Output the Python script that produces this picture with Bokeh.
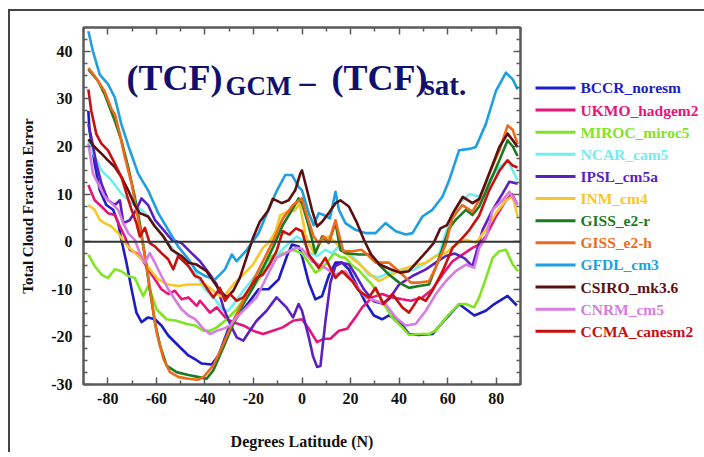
from bokeh.plotting import figure
from bokeh.layouts import row
from bokeh.models import Range1d, FixedTicker, LinearAxis, Span, Label, CustomJSTickFormatter
from bokeh.core.properties import value
from bokeh.embed import file_html
from bokeh.resources import INLINE

# ---------------- data ----------------
names = ["BCCR_noresm", "UKMO_hadgem2", "MIROC_miroc5", "NCAR_cam5", "IPSL_cm5a", "INM_cm4",
         "GISS_e2-r", "GISS_e2-h", "GFDL_cm3", "CSIRO_mk3.6", "CNRM_cm5", "CCMA_canesm2"]
colors = ["#1c1cc8", "#e6157a", "#7de620", "#70eef0", "#5b1fc4", "#f5c828",
          "#1a7a1f", "#ee6a1a", "#1e9fe0", "#5c0f0f", "#d77ce0", "#c8100f"]

bccr_lat = [-88, -87.5, -85.4, -83.3, -80.6, -77.8, -75.7, -74.4, -72.3, -70.2, -68.2, -66.1, -63.4, -60.6,
            -57.9, -55.1, -51, -46.8, -43.4, -41.3, -37.2, -34.4, -30.3, -26.2, -22, -17.9, -13.8, -9.6, -6.2,
            -4.1, -1.4, 0, 2.8, 5.5, 8.3, 11, 13.8, 16.5, 19.3, 22.7, 26.2, 29.6, 33, 35.8, 39.3, 44.1, 48,
            53.7, 59.2, 64.7, 71, 75.7, 79.2, 84.7, 88.5]
bccr_val = [27.5, 23.3, 16.4, 10.8, 7.7, 6.7, 3.9, 0.4, -4.4, -10, -14.9, -16.9, -15.9, -16.3,
            -17.6, -19.7, -21.8, -23.9, -24.9, -25.6, -25.8, -23.9, -18.3, -15.5, -12.8, -10, -10, -7.9, -3,
            -0.6, -1, -3, -8.6, -12.1, -11.4, -7.2, -4.4, -4.4, -5.8, -9.3, -12.8, -15.5, -16.3, -15.5, -16.3,
            -19.4, -19.6, -19.4, -16.2, -13.1, -15.5, -14.5, -13.1, -11.4, -13.4]

ukmo_lat = [-88, -85.4, -82.6, -79.9, -77.1, -75, -73, -70.9, -68.2, -65.5, -63.4, -60.6, -57.9, -55.1, -52.4,
            -49.6, -46.8, -43.4, -42, -37.9, -35.1, -31, -28.3, -24.2, -20.2, -16.1, -12, -7.9, -3.7, 0, 2.8,
            6.2, 8.9, 11.7, 15.2, 18.6, 22, 24.8, 28.9, 33, 37.2, 41.3, 44.8, 49.6, 53.7, 57.9, 62, 66.1, 70.2,
            73, 75.7, 79.9, 84, 86.5, 88.5]
ukmo_val = [11.9, 8.7, 7.4, 6, 5.6, 3.2, 1.1, -1.7, -2.4, -4, -5.8, -7.9, -10, -11, -10.3,
            -12.1, -11.7, -13.5, -12.4, -14.9, -13.8, -16.3, -16.9, -17.6, -18.7, -19.4, -18.7, -18, -16.6, -16.3,
            -18.3, -21.1, -20.4, -20.4, -18.7, -18.3, -15.9, -13.8, -11.7, -11, -11.7, -12.1, -12.4, -11.7, -10,
            -6.9, -4.1, -2.7, -1.3, -0.6, 1.1, 5.3, 8.7, 10, 8]

miroc_lat = [-88, -85.4, -82.6, -79.9, -77.1, -74.4, -71.6, -68.9, -65.4, -63.4, -62, -59.9, -55.8, -51.7,
             -47.5, -44.1, -40.6, -37.9, -35.1, -31.7, -27.5, -23, -18, -14, -12.4, -6.9, -4.1, 0, 2.8, 5.5, 7.6,
             10.3, 13.1, 15.8, 17.9, 20.7, 23.4, 26, 28.9, 33, 37.2, 41.3, 44.1, 48.2, 52.3, 55, 57.9, 60.6,
             64.7, 67.5, 70.9, 73, 75.8, 78.5, 81.3, 84, 86.8, 89]
miroc_val = [-2.7, -5.1, -6.9, -7.6, -5.8, -6.2, -7.2, -7.6, -11.4, -9.3, -11, -14.2, -16.3, -16.6,
             -17.3, -17.6, -18.7, -18.7, -18, -16.6, -14.5, -11.5, -8, -4.5, -3, -2.4, -1.7, -2.4, -4.4, -6.5,
             -5.8, -4.4, -2.4, -3.2, -3.4, -5, -6, -7.5, -9, -12.5, -16, -18, -19.6, -19.4, -19.4, -18.7, -16.9,
             -15.2, -13.1, -13.1, -13.8, -11.7, -7.6, -3.4, -2, -1.7, -4.8, -6.2]

ncar_lat = [-88, -86, -82.6, -78.5, -74.4, -70.2, -66.1, -63.4, -59.2, -55.1, -51, -46.8, -43.4, -40, -35.8,
            -33, -30.5, -28, -24.8, -19.3, -13.8, -9.6, -5.5, -2.1, 0, 3.4, 6.2, 9.6, 12.4, 15.2, 19.3, 23.4,
            27.5, 31.7, 35.8, 41.3, 45.5, 51, 56.5, 60.6, 64.7, 68.9, 73, 77.1, 81.3, 84.7, 88.8]
ncar_val = [21, 18.5, 15, 12.9, 10.1, 8.1, 6.7, 5.3, 2.5, -0.3, -3, -5.1, -6.9, -10, -12.1,
            -14.2, -14.5, -13, -10.7, -7.2, -4.4, -2.4, -0.3, 1.1, 0.4, -2.4, -3, -1.7, -2.4, -1, -2.4, -4.4,
            -7, -7.5, -6.5, -5.8, -6, -4.5, -2.5, 4, 8, 10, 9.5, 12.9, 15.7, 17.1, 12.9]

ipsl_lat = [-88, -86.8, -84.7, -82.6, -79.9, -77.1, -75, -73.6, -71, -68.5, -66.1, -63.4, -60.6, -57.1, -53.7,
            -49.6, -45.5, -42, -37.9, -35.1, -32.4, -29.6, -26.9, -24.2, -21.5, -18.7, -14.6, -10.5, -6.4,
            -3.7, -1.4, 0, 2.8, 4.5, 6.2, 7.6, 9.6, 11.7, 13.8, 16.5, 19.3, 22, 25.5, 29.5, 33, 36, 40, 45.5,
            51, 55.1, 59.2, 63, 67, 70.2, 74.4, 78.5, 82.6, 85.4, 88.8]
ipsl_val = [24.7, 22, 16.4, 12.2, 8.7, 7.7, 8.7, 3.9, 4.5, 6.5, 9.1, 7.7, 4.6, 2.5, 0.4,
            -0.3, -2.4, -4.1, -6.9, -9, -13.8, -17.3, -20.1, -20.8, -18.7, -16.6, -14.5, -11.7, -13.8,
            -15.9, -13.1, -14.5, -20.1, -24, -26.3, -26.1, -16.9, -8.6, -5.1, -4.4, -4.8, -6.9, -10, -12.5,
            -13, -12, -9, -7.2, -5.8, -4.4, -3, -2.5, -3.5, -5.2, 2.5, 6.7, 10.1, 12.6, 12.2]

inm_lat = [-88, -85.4, -83.3, -81.3, -78.5, -75.7, -73, -70.2, -67.5, -64.7, -62, -59.2, -55.1, -51, -46.8,
           -43.4, -40, -37.9, -35.1, -32.4, -28.3, -24.2, -20.2, -16.1, -13.4, -11, -9, -6, -3, -1, 1.4, 2.8,
           5, 8.3, 11, 13.5, 16.5, 19.3, 23.4, 28.9, 31.7, 35.8, 41.3, 45.5, 51, 55.1, 59.2, 63.3, 67.5,
           71.6, 75.7, 79.9, 84, 86.8, 88.8]
inm_val = [7.7, 6.7, 4.6, 3.9, 3.2, 1.8, -0.3, -1.7, -3, -4.4, -6.2, -7.9, -9, -9.3, -9,
           -9, -9, -9.7, -11, -11.7, -9, -6.9, -4.8, -1.3, 0, 2, 5.5, 6.3, 6.5, 8, 1.5, -0.3,
           -2.4, 0.4, 1.1, 0, -1.7, -3, -4.6, -7.2, -8.3, -7.2, -5.8, -5.1, -4.4, -3, -2.4, -0.6, 0.4,
           -0.3, 2.5, 6, 8.7, 9.5, 5.3]

gissr_lat = [-88, -84, -81.3, -79.2, -77.1, -74.4, -71.6, -68.9, -66.8, -64.7, -62.7, -60.6, -58.5, -55.8,
             -51.7, -46.8, -42, -39.3, -36.5, -32.4, -28.3, -24.2, -20.2, -16.1, -12, -7.9, -3.7, -1.4, 0,
             2.8, 5.5, 8.3, 11, 13.8, 15.8, 17.9, 23.4, 27.5, 31.7, 35.8, 40, 44.1, 48.2, 52.3, 55, 57.9,
             60.6, 63.3, 67.5, 70.2, 73, 77.1, 81.3, 84.7, 86.8, 88.8]
gissr_val = [36.2, 33.8, 31, 28.2, 25.4, 21.3, 15.7, 9.5, 3.9, -3, -10, -16.9, -21.8, -26,
             -27.4, -28, -28.5, -28.8, -27, -22.2, -17.3, -13.1, -9.7, -5.5, -1.3, 3.5, 7, 9.1, 8.1,
             3.2, -2.4, 1.1, -0.3, 4, -1.7, -2.4, -2.7, -2.7, -4.8, -6.9, -8.6, -9.7, -9.3, -9, -5.5, -1.3,
             2.8, 4.6, 6.7, 5.6, 7.4, 12.2, 17.1, 21.3, 20, 18]

gissh_lat = [-88, -85.4, -81.3, -78.5, -77.1, -75, -73, -70.2, -68.2, -66.1, -64, -62, -59.9, -57.1, -54.4,
             -51, -46.8, -43, -40.5, -36.5, -32.4, -28.3, -24.2, -20.2, -16.1, -12, -7.9, -3.7, 0, 2.1, 4.8,
             6.9, 9, 11, 13.8, 15.8, 17, 20.7, 24.5, 27.5, 30.3, 35.8, 38.4, 41.3, 44.8, 48.2, 52.3, 55, 59.2,
             61.9, 66, 70.2, 73, 77.1, 81.3, 84.7, 86.8, 88.8]
gissh_val = [36.5, 34.8, 31.6, 27.9, 26.8, 22.6, 17.8, 12.2, 6.7, 1.1, -5.1, -12.1, -19, -24.6, -27.4,
             -28.4, -28.8, -29, -28.4, -26, -21.5, -16.6, -12.4, -8.3, -4.1, 0, 4.9, 7.7, 9.1, 5.3, 1.1,
             -0.3, 1.1, -0.1, 4.5, 0.4, -2, -2, -1.7, -3, -4.4, -4.4, -5.5, -6.9, -8.6, -8.6, -8.3, -5.5, -0.6,
             4.9, 7.7, 6.3, 8.8, 14.3, 19.2, 24.4, 23.5, 20.5]

gfdl_lat = [-88, -86.1, -83.3, -79.9, -77.1, -74.4, -70.9, -67.5, -63.4, -59.2, -55.1, -51, -46.8, -43.4, -40,
            -35.8, -31.7, -28.9, -26.9, -22.7, -17.9, -13.8, -10.3, -6.9, -4.1, -1.4, 0, 2.8, 4.8, 6.9, 9,
            11.5, 13.8, 15.2, 17.9, 22, 26.2, 30.3, 34.4, 38.6, 42.7, 45.5, 49.6, 53.7, 57.9, 60.6, 64.7,
            68.9, 71.6, 75.7, 79.9, 84, 86.8, 88.8]
gfdl_val = [44.2, 40, 35.1, 33.1, 30.3, 24.7, 19.2, 14.3, 10.8, 6, 2.5, -1, -3.7, -6.2, -7.2,
            -7.9, -5.8, -2.7, -4.1, -1.7, 1.8, 6.7, 10.8, 14, 14, 11.5, 10.8, 6, 3.5, 6, 5.6,
            4.9, 10.5, 6.7, 3.9, 2.5, 1.8, 1.8, 3.9, 2.2, 1.5, 1.8, 5.3, 6.7, 9.5, 12.9, 19.2,
            19.5, 19.9, 24.7, 31.7, 35.5, 34.1, 32]

csiro_lat = [-88, -85.4, -82.6, -79.9, -77.1, -74.4, -71.6, -68.9, -66.8, -63.4, -60.6, -57.1, -53.7, -49.6,
             -46.8, -43.4, -39.3, -36.5, -33.8, -31, -28.3, -25.6, -22.9, -20.2, -17.4, -14, -12, -8.3,
             -5.5, -2.8, -0.7, 0, 2.1, 4.1, 6.2, 8.3, 11, 13.8, 15.8, 19.3, 22.7, 25.5, 28.5, 32, 36.5, 40.3,
             44, 47.7, 51.4, 54.2, 57, 59.7, 62.5, 66.2, 70.2, 73, 77.1, 81.3, 84.7, 86.8, 88.8]
csiro_val = [21.5, 19.9, 18.5, 17.1, 15.7, 13.6, 10.8, 7.7, 6, 5.3, 3.2, 1.1, -1.7, -3,
             -4.4, -4.8, -6.2, -8.3, -10.3, -11.7, -10.3, -7.6, -3.4, 0.8, 4.2, 6.5, 9, 8.1,
             8.7, 10.8, 14.3, 15, 10.8, 6.7, 3.2, 4.2, 6, 8.1, 8.7, 7.4, 3.9, 0.4, -2.7, -4.8, -5.8, -6.5,
             -6.2, -4.1, -2, -0.3, 2.8, 3.5, 6.3, 9.4, 8.1, 9, 14.3, 19.9, 22.7, 21.3, 19.9]

cnrm_lat = [-88, -86.1, -84, -81.3, -78.5, -75.7, -73.6, -71.6, -68.9, -66.8, -64.7, -62.7, -60.6, -57.9, -55.1,
            -52.4, -49.6, -46.8, -44.1, -40.6, -37.9, -35.1, -32.4, -29.6, -26.9, -24.2, -21.5, -18.7, -16.1,
            -13.4, -10.5, -7.9, -5.2, -2.5, 0, 4.1, 6.9, 9.6, 13.8, 17.9, 22, 26.2, 30.3, 34.4, 38.6, 42.7,
            46.8, 51, 55.1, 59.2, 63.3, 67.5, 70.9, 73, 75.8, 78.5, 82.6, 85.4, 88.8]
cnrm_val = [20.6, 14.3, 12.2, 9.5, 8.1, 6.7, 3.9, 1.8, 0.4, -2.4, -4.4, -2.4, -4.4, -7.2, -10,
            -12.1, -14.2, -15.5, -16.2, -18.3, -19.4, -18.7, -18.3, -17.6, -15.9, -14.5, -13.1, -11.7, -9,
            -6.2, -3.4, -2.7, -2, -1.3, -1.5, -4.1, -4.8, -5.5, -6.9, -6.2, -9, -11.7, -12.4, -13.1, -15.9,
            -17.6, -17.3, -14.5, -11, -8.3, -6.2, -4.8, -5.5, -1.3, 0.8, 6.7, 8.7, 10.5, 7.7]

ccma_lat = [-88, -86.8, -84.7, -82.6, -79.9, -77.1, -74.4, -72.3, -70.2, -68.2, -66.8, -64.7, -62.7, -60.6,
            -57.9, -55.1, -53, -51, -46.8, -44.1, -42, -39.3, -36.5, -33.8, -31.7, -29.6, -26.9, -24.2, -21.5,
            -18.7, -16.1, -13.4, -10.5, -7.9, -5.2, -2.5, 0, 2.8, 6.9, 9.6, 13.8, 16.5, 20.7, 23.4, 27.5,
            30.3, 33.6, 37.2, 41.3, 44.1, 48.2, 51, 53.7, 57.9, 62, 66.1, 69, 73, 77.1, 81.3, 84.7, 86.8, 88.8]
ccma_val = [32, 27.5, 22.6, 20.6, 19.2, 16.4, 13.6, 10.1, 6.7, 3.9, 1.1, 2.9, -0.3, -1,
            -2.4, -3.7, -5.8, -3, -5.1, -7.2, -7.6, -9.7, -11.7, -9.7, -12.4, -11, -12.4, -11.7, -9.7,
            -7.6, -6.9, -4.8, -2, 2.2, 1.5, 2.8, 2.2, -2.7, -5.5, -3.4, -7.6, -6.2, -8.3, -10.3, -11.7,
            -9.7, -13.1, -11, -13.8, -14.9, -11.7, -12.4, -10.3, -6.2, -1.3, 0.8, 2.5, 5.5, 10.8, 14.9, 17.1, 16, 15.6]

series_lat = [bccr_lat, ukmo_lat, miroc_lat, ncar_lat, ipsl_lat, inm_lat,
              gissr_lat, gissh_lat, gfdl_lat, csiro_lat, cnrm_lat, ccma_lat]
series_val = [bccr_val, ukmo_val, miroc_val, ncar_val, ipsl_val, inm_val,
              gissr_val, gissh_val, gfdl_val, csiro_val, cnrm_val, ccma_val]

x_major = [-80, -60, -40, -20, 0, 20, 40, 60, 80]
x_minor = [-90, -70, -50, -30, -10, 10, 30, 50, 70, 90]
y_major = [-30, -20, -10, 0, 10, 20, 30, 40]
y_minor = [-27.5, -25, -22.5, -17.5, -15, -12.5, -7.5, -5, -2.5, 2.5, 5, 7.5, 12.5, 15, 17.5,
           22.5, 25, 27.5, 32.5, 35, 37.5, 42.5, 45]

# ---------------- layout geometry (page pixels) ----------------
OX, OY = 10, 11            # canvas origin on page (css margin + 2px border)
H = 441
FL, FR, FT, FB = 83, 520, 27, 387   # frame edges on page
WM = 528 - OX                       # main figure width
WL = 704 - 528                      # legend figure width

SERIF = "Liberation Serif"
NAVY = "#10106e"

p = figure(width=WM, height=H, x_range=Range1d(-90, 90), y_range=Range1d(-30, 45),
           output_backend="svg", toolbar_location=None, title=None,
           min_border_left=FL - OX, min_border_right=WM - (FR - OX),
           min_border_top=FT - OY, min_border_bottom=H - (FB - OY),
           background_fill_color="white", border_fill_color="white")
p.grid.visible = False
p.outline_line_color = "#5a5a5a"
p.outline_line_width = 2

int_fmt = CustomJSTickFormatter(code="return tick.toFixed(0);")
no_fmt = CustomJSTickFormatter(code="return '';")


def style_axis(ax, labels=True):
    ax.axis_line_color = "#5a5a5a"
    ax.axis_line_width = 2
    ax.major_tick_in = 7
    ax.major_tick_out = 0
    ax.minor_tick_in = 4
    ax.minor_tick_out = 0
    ax.major_tick_line_color = "#5a5a5a"
    ax.minor_tick_line_color = "#5a5a5a"
    ax.major_tick_line_width = 1.5
    ax.minor_tick_line_width = 1.5
    ax.major_label_text_font = SERIF
    ax.major_label_text_font_style = "bold"
    ax.major_label_text_color = "#111111"
    ax.major_label_text_font_size = "16px"
    if labels:
        ax.formatter = int_fmt
    else:
        ax.formatter = no_fmt
        ax.major_label_standoff = 0


p.xaxis.ticker = FixedTicker(ticks=x_major, minor_ticks=x_minor)
p.yaxis.ticker = FixedTicker(ticks=y_major, minor_ticks=y_minor)
style_axis(p.xaxis[0])
style_axis(p.yaxis[0])
p.xaxis.major_label_standoff = 8
p.yaxis.major_label_standoff = 11
p.xaxis.axis_label = "Degrees Latitude (N)"
p.yaxis.axis_label = "Total Cloud Fraction Error"
for ax, sz, st in ((p.xaxis[0], "16px", 26), (p.yaxis[0], "15px", 12)):
    ax.axis_label_text_font = SERIF
    ax.axis_label_text_font_style = "bold"
    ax.axis_label_text_font_size = sz
    ax.axis_label_text_color = "#111111"
    ax.axis_label_standoff = st

top_ax = LinearAxis(ticker=FixedTicker(ticks=x_major, minor_ticks=x_minor))
style_axis(top_ax, labels=False)
p.add_layout(top_ax, "above")
right_ax = LinearAxis(ticker=FixedTicker(ticks=y_major, minor_ticks=y_minor))
style_axis(right_ax, labels=False)
p.add_layout(right_ax, "right")

for lat, val, c in zip(series_lat, series_val, colors):
    p.line(lat, val, line_color=c, line_width=2.6, line_join="round")

p.add_layout(Span(location=0, dimension="width", line_color="#333333", line_width=2))


# Label screen coordinates: relative to the frame (x from left, y up from bottom)
def add_text(txt, px, py, size):
    p.add_layout(Label(x=px - FL, y=FB - py, x_units="screen", y_units="screen", text=txt,
                       text_font=SERIF, text_font_style="bold", text_font_size=size,
                       text_color=NAVY, text_align="left", text_baseline="alphabetic"))


# title inside the plot (baselines compensated for the svg text offset)
add_text("(TCF)", 126, 80, "36px")
add_text("GCM", 225, 88, "27px")
add_text("\u2013", 299, 83, "32px")
add_text("(TCF)", 331, 80, "36px")
add_text("sat.", 423, 87, "29px")

# ---------------- legend as its own figure ----------------
# its frame is aligned with the main frame (page y 27..387), so the y range uses page pixels
leg = figure(width=WL, height=H, x_range=Range1d(528, 528 + WL), y_range=Range1d(FB, FT),
             output_backend="svg", toolbar_location=None, title=None,
             x_axis_location=None, y_axis_location=None,
             min_border=0, min_border_left=0, min_border_right=0,
             background_fill_color="white", border_fill_color="white")
leg.grid.visible = False
leg.outline_line_color = None

row_y = [88 + 22.3 * i for i in range(len(names))]
leg.segment(x0=[535] * len(names), x1=[575] * len(names), y0=row_y, y1=row_y,
            line_color=colors, line_width=3)
leg.text(x=[580] * len(names), y=row_y, text=names, text_color=colors,
         text_font=value(SERIF), text_font_style="bold", text_font_size="15.5px",
         text_align="left", text_baseline="middle")

layout = row(p, leg)
layout.styles = {"margin-left": "8px", "margin-top": "9px",
                 "border-left": "2px solid #444444", "border-top": "2px solid #444444"}

open("out.html", "w").write(file_html(layout, INLINE))
